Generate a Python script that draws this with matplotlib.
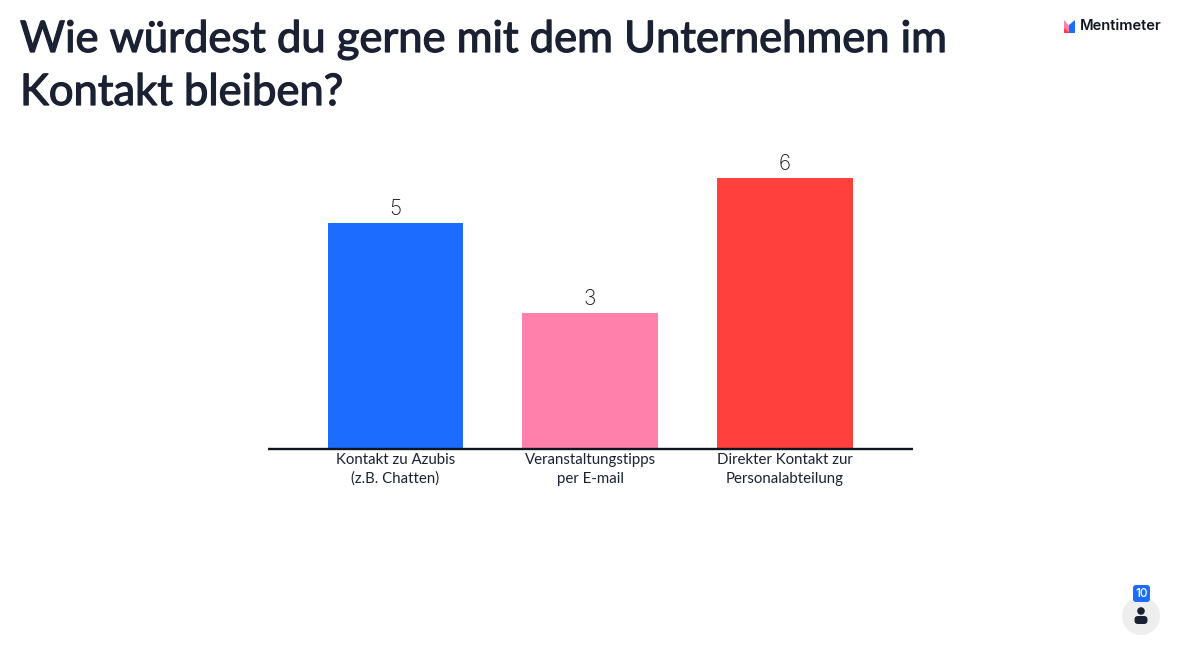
import matplotlib
matplotlib.use("Agg")
import matplotlib.pyplot as plt
import matplotlib.patheffects as pe
from matplotlib.patches import Circle, FancyBboxPatch, Polygon

categories = ["Kontakt zu Azubis\n(z.B. Chatten)", "Veranstaltungstipps\nper E-mail", "Direkter Kontakt zur\nPersonalabteilung"]
votes = [5, 3, 6]
colors = ["#1c6cff", "#ff80ab", "#ff403d"]
title_lines = ["Wie würdest du gerne mit dem Unternehmen im", "Kontakt bleiben?"]
ink = "#1a2133"
W, H = 1180, 645

fig = plt.figure(figsize=(W / 100, H / 100), dpi=100, facecolor="white")
ax = fig.add_axes([268 / W, 1 - 448.5 / H, (913 - 268) / W, 270.5 / H])
ax.bar(range(3), votes, width=0.698, color=colors)
ax.set_xlim(-0.6547, 2.657)
ax.set_ylim(0, 6.01)
for s in ["top", "left", "right"]:
    ax.spines[s].set_visible(False)
ax.spines["bottom"].set_linewidth(1.7)
ax.spines["bottom"].set_color("#101522")
ax.spines["bottom"].set_capstyle("butt")
ax.set_yticks([])
ax.set_xticks(range(3), categories, fontsize=10.8, family="Lato", color=ink, linespacing=1.42)
ax.tick_params(axis="x", length=0, pad=3.2)
for i, v in enumerate(votes):
    ax.annotate(str(v), (i, v), xytext=(-0.5, 3), textcoords="offset points", ha="center", va="bottom",
                fontsize=15, family="Inter", weight="light", color="#101522", annotation_clip=False)

stroke = [pe.withStroke(linewidth=0.9, foreground=ink)]
for line, baseline in zip(title_lines, [52, 105]):
    fig.text(20 / W, 1 - baseline / H, line, fontsize=31.35, family="Lato", color=ink,
             va="baseline", ha="left", path_effects=stroke)

# overlay in pixel coordinates for logo and participant badge
ov = fig.add_axes([0, 0, 1, 1], facecolor="none")
ov.set_xlim(0, W)
ov.set_ylim(H, 0)
ov.axis("off")
ov.text(1080, 26.5, "Mentimeter", fontsize=10.6, family="Inter", weight="semibold", color="#101522", va="center", ha="left")
ov.add_patch(Polygon([(1064, 33), (1064, 20), (1070, 27), (1070, 33)], color="#ff80ab", lw=0))
ov.add_patch(Polygon([(1064, 33), (1064, 28), (1070, 33)], color="#ff403d", lw=0))
ov.add_patch(Polygon([(1069, 33), (1069, 25), (1075, 20), (1075, 33)], color="#1c6cff", lw=0))

ov.add_patch(Circle((1141, 616), 19, color="#eeeeee", lw=0))
ov.add_patch(FancyBboxPatch((1133, 585), 17, 17, boxstyle="round,pad=0,rounding_size=3", color="#1c6cff", lw=0))
ov.text(1141.5, 593.7, "10", fontsize=8.6, family="Inter", weight="medium", color="white", ha="center", va="center")
ov.add_patch(Circle((1141, 611), 3.8, color=ink, lw=0))
ov.add_patch(FancyBboxPatch((1134.5, 616), 13, 8, boxstyle="round,pad=0,rounding_size=3.5", color=ink, lw=0))

fig.savefig("out.png", dpi=100, facecolor="white")
